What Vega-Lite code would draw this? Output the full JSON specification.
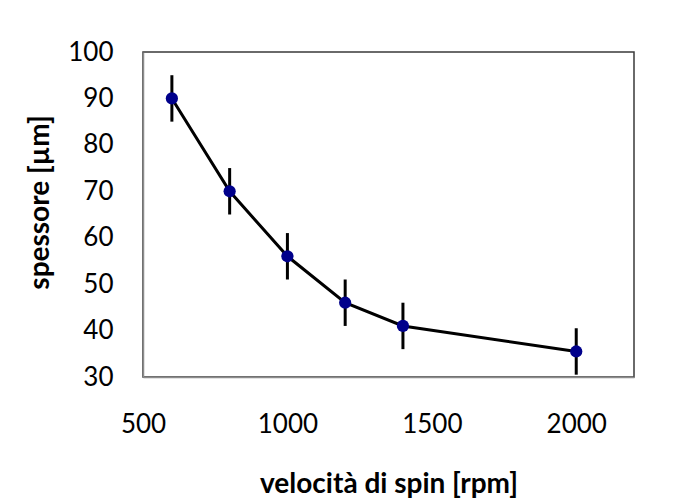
{
  "$schema": "https://vega.github.io/schema/vega-lite/v6.json",
  "width": 491,
  "height": 325,
  "autosize": "none",
  "padding": {"left": 143, "top": 52, "right": 42, "bottom": 127},
  "background": "white",
  "config": {
    "font": "Lato",
    "view": {"stroke": "#3a3a3a", "strokeWidth": 1.5}
  },
  "data": {
    "values": [
      {"rpm": 600, "spessore": 90, "err": 5},
      {"rpm": 800, "spessore": 70, "err": 5},
      {"rpm": 1000, "spessore": 56, "err": 5},
      {"rpm": 1200, "spessore": 46, "err": 5},
      {"rpm": 1400, "spessore": 41, "err": 5},
      {"rpm": 2000, "spessore": 35.5, "err": 5}
    ]
  },
  "encoding": {
    "x": {
      "field": "rpm",
      "type": "quantitative",
      "scale": {"domain": [500, 2200], "nice": false, "zero": false},
      "axis": {
        "values": [500, 1000, 1500, 2000],
        "format": "d",
        "title": "velocità di spin [rpm]",
        "grid": false,
        "ticks": false,
        "domain": true,
        "domainColor": "#8c8c8c",
        "domainWidth": 1.5,
        "labelFontSize": 26,
        "labelColor": "black",
        "labelPadding": 34,
        "labelFlush": false,
        "titleFontSize": 28,
        "titleFontWeight": "bold",
        "titleColor": "black",
        "titleBaseline": "alphabetic",
        "titleY": 115
      }
    },
    "y": {
      "field": "spessore",
      "type": "quantitative",
      "scale": {"domain": [30, 100], "nice": false, "zero": false},
      "axis": {
        "values": [30, 40, 50, 60, 70, 80, 90, 100],
        "format": "d",
        "title": "spessore [µm]",
        "grid": false,
        "ticks": false,
        "domain": true,
        "domainColor": "#8c8c8c",
        "domainWidth": 1.5,
        "labelFontSize": 26,
        "labelColor": "black",
        "labelPadding": 30,
        "labelFlush": false,
        "titleFontSize": 28,
        "titleFontWeight": "bold",
        "titleColor": "black",
        "titleBaseline": "middle",
        "titleX": -103,
        "titleY": 150
      }
    }
  },
  "layer": [
    {
      "mark": {"type": "errorbar", "color": "black", "thickness": 3, "clip": true},
      "encoding": {
        "yError": {"field": "err"}
      }
    },
    {
      "mark": {"type": "line", "color": "black", "strokeWidth": 3}
    },
    {
      "mark": {"type": "point", "filled": true, "size": 150, "color": "#00008b", "opacity": 1}
    }
  ]
}
